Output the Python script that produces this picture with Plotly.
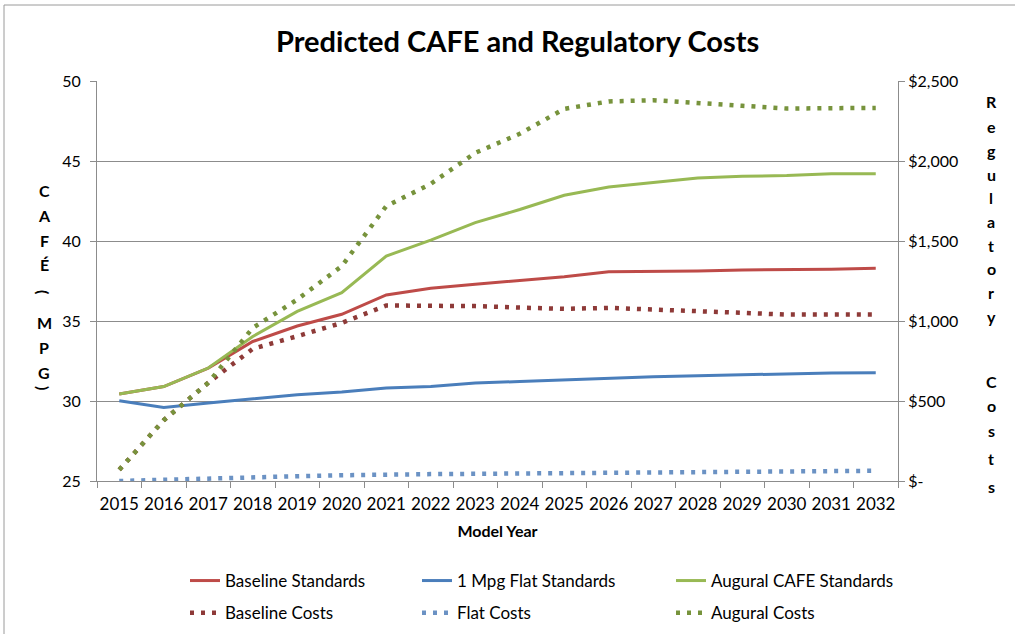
import plotly.graph_objects as go

# ---- data ----
years = [str(y) for y in range(2015, 2033)]

baseline_std = [30.44, 30.90, 32.06, 33.72, 34.69, 35.42, 36.63, 37.04, 37.29,
                37.52, 37.77, 38.08, 38.10, 38.12, 38.19, 38.19, 38.23, 38.29]
flat_std = [30.02, 29.60, 29.87, 30.14, 30.39, 30.56, 30.81, 30.91, 31.12,
            31.22, 31.33, 31.43, 31.51, 31.58, 31.64, 31.70, 31.75, 31.76]
augural_std = [30.44, 30.90, 32.06, 34.03, 35.60, 36.77, 39.06, 40.06, 41.15,
               41.97, 42.86, 43.38, 43.65, 43.94, 44.05, 44.09, 44.21, 44.21]

baseline_cost = [70, 380, 614, 826, 905, 988, 1097, 1097, 1093,
                 1084, 1076, 1082, 1074, 1059, 1051, 1040, 1040, 1040]
flat_cost = [0, 9, 14, 28, 30, 36, 43, 43, 45,
             47, 49, 51, 55, 57, 57, 57, 61, 64]
augural_cost = [70, 380, 614, 957, 1134, 1343, 1718, 1857, 2051,
                2170, 2326, 2372, 2380, 2366, 2345, 2328, 2330, 2332]

mpg_ticks = [25, 30, 35, 40, 45, 50]
cost_ticks = [0, 500, 1000, 1500, 2000, 2500]
cost_tick_text = ["$-", "$500", "$1,000", "$1,500", "$2,000", "$2,500"]

# ---- layout geometry (pixels) ----
W, H = 1015, 634
L, R, T, B = 97, 117, 81, 153
PW, PH = W - L - R, H - T - B


def px_x(x):
    return (x - L) / PW


def px_y(y):
    return (H - B - y) / PH


FONT = "Lato"
RED, BLUE, GREEN = "#BE4B48", "#4A7EBB", "#98B954"
RED_D, BLUE_D, GREEN_D = "#8E3A38", "#6B92C4", "#77933C"
DOT = "4px,7px"

fig = go.Figure()

series = [
    ("Baseline Standards", baseline_std, "y", RED, 3, "solid", "legend", "g1"),
    ("1 Mpg Flat Standards", flat_std, "y", BLUE, 3, "solid", "legend2", "g2"),
    ("Augural CAFE Standards", augural_std, "y", GREEN, 3, "solid", "legend3", "g3"),
    ("Baseline Costs", baseline_cost, "y2", RED_D, 4.5, DOT, "legend", "g4"),
    ("Flat Costs", flat_cost, "y2", BLUE_D, 4.5, DOT, "legend2", "g5"),
    ("Augural Costs", augural_cost, "y2", GREEN_D, 4.5, DOT, "legend3", "g6"),
]
for name, vals, yax, color, width, dash, leg, grp in series:
    fig.add_trace(go.Scatter(
        x=years, y=vals, yaxis=yax, name=name, mode="lines",
        line=dict(color=color, width=width, dash=dash),
        legend=leg, legendgroup=grp,
    ))

# stacked vertical axis titles (brackets turned sideways, as in stacked text)
annotations = []
left_letters = ["C", "A", "F", "É", "(", "M", "P", "G", ")"]
left_y = [190, 215, 240, 264, 292, 322, 347, 372, 388]
for ch, y in zip(left_letters, left_y):
    rot = 90 if ch in "()" else 0
    annotations.append(dict(
        text=ch, x=px_x(44), y=px_y(y), xref="paper", yref="paper",
        showarrow=False, xanchor="center", yanchor="middle", textangle=rot,
        font=dict(family=FONT, size=16, color="#000", weight="bold")))

right_letters = list("Regulatory") + list("Costs")
right_y = [101, 126, 150, 174, 197, 221, 245, 268, 292, 316,
           381, 405, 430, 458, 486]
for ch, y in zip(right_letters, right_y):
    annotations.append(dict(
        text=ch, x=px_x(991), y=px_y(y), xref="paper", yref="paper",
        showarrow=False, xanchor="center", yanchor="middle",
        font=dict(family=FONT, size=16, color="#000", weight="bold")))

annotations.append(dict(
    text="Predicted CAFE and Regulatory Costs", x=px_x(517), y=px_y(41),
    xref="paper", yref="paper", showarrow=False, xanchor="center", yanchor="middle",
    font=dict(family=FONT, size=29, color="#000", weight="bold")))

legend_common = dict(
    orientation="v", xanchor="left", yanchor="top", tracegroupgap=7,
    bgcolor="rgba(0,0,0,0)", borderwidth=0,
    font=dict(family=FONT, size=17, color="#000"),
)
leg_top = px_y(563)

fig.update_layout(
    width=W, height=H,
    margin=dict(l=L, r=R, t=T, b=B, autoexpand=False),
    paper_bgcolor="white", plot_bgcolor="white",
    font=dict(family=FONT, color="#000"),
    showlegend=True,
    legend=dict(x=px_x(185), y=leg_top, **legend_common),
    legend2=dict(x=px_x(417), y=leg_top, **legend_common),
    legend3=dict(x=px_x(671), y=leg_top, **legend_common),
    xaxis=dict(
        type="category", range=[-0.5, len(years) - 0.5], automargin=False,
        showgrid=False, showline=True, linecolor="#8C8C8C", linewidth=1,
        ticks="outside", tickson="boundaries", ticklen=6, tickcolor="#8C8C8C",
        ticklabelstandoff=8,
        tickangle=0, tickfont=dict(family=FONT, size=17, color="#000"),
        title=dict(text="Model Year", standoff=12,
                   font=dict(family=FONT, size=16, color="#000", weight="bold")),
    ),
    yaxis=dict(
        range=[25, 50], tickvals=mpg_ticks, showgrid=True, gridcolor="#8C8C8C",
        gridwidth=1, showline=True, linecolor="#8C8C8C", linewidth=1, automargin=False,
        ticks="outside", ticklen=6, tickcolor="#8C8C8C", zeroline=False,
        ticklabelstandoff=6,
        tickfont=dict(family=FONT, size=16, color="#000"),
    ),
    yaxis2=dict(
        range=[0, 2500], tickvals=cost_ticks, ticktext=cost_tick_text,
        overlaying="y", side="right", showgrid=False, zeroline=False,
        showline=True, linecolor="#8C8C8C", linewidth=1, automargin=False,
        ticks="outside", ticklen=6, tickcolor="#8C8C8C",
        tickfont=dict(family=FONT, size=16, color="#000"),
    ),
    annotations=annotations,
    shapes=[dict(type="rect", xref="paper", yref="paper",
                 x0=px_x(4), y0=px_y(H + 10), x1=px_x(W + 10), y1=px_y(5),
                 line=dict(color="#9A9A9A", width=1), layer="below")],
)

fig.write_html("out.html")
